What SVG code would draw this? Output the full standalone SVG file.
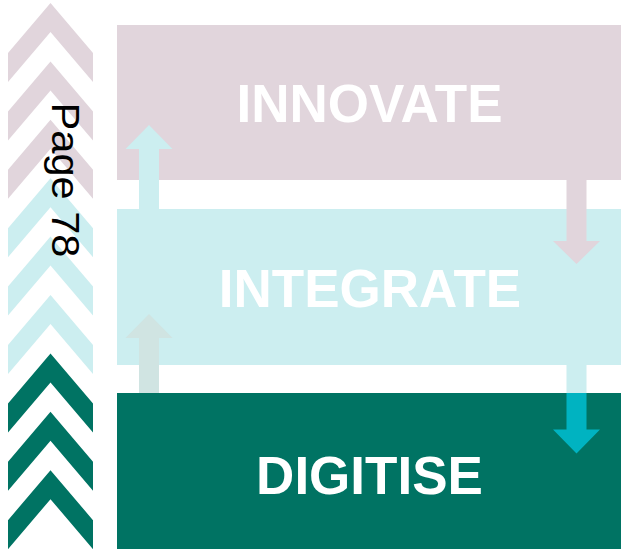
<svg xmlns="http://www.w3.org/2000/svg" xmlns:xlink="http://www.w3.org/1999/xlink" width="621" height="549" viewBox="0 0 621 549">
  <style>
    .label { font-family: "Liberation Sans", Arial, sans-serif; font-weight: bold; font-size: 53px; fill: #FFFFFF; text-anchor: middle; }
    .page { font-family: "Liberation Sans", Arial, sans-serif; font-size: 38px; fill: #000000; text-anchor: middle; }
    .pink { fill: #E1D5DC; }
    .cyan { fill: #CCEEF0; }
    .teal { fill: #007363; }
  </style>
  <defs>
    <!-- one chevron, apex at the origin -->
    <path id="chev" d="M0,0 L42.5,50 L42.5,79 L0,29 L-42.5,79 L-42.5,50 Z"/>
  </defs>

  <!-- chevron column on the left -->
  <g id="chevrons">
    <use xlink:href="#chev" class="pink" transform="translate(50.5,3)"/>
    <use xlink:href="#chev" class="pink" transform="translate(50.5,61.4)"/>
    <use xlink:href="#chev" class="pink" transform="translate(50.5,119.8)"/>
    <use xlink:href="#chev" class="cyan" transform="translate(50.5,178.2)"/>
    <use xlink:href="#chev" class="cyan" transform="translate(50.5,236.6)"/>
    <use xlink:href="#chev" class="cyan" transform="translate(50.5,295)"/>
    <use xlink:href="#chev" class="teal" transform="translate(50.5,353.4)"/>
    <use xlink:href="#chev" class="teal" transform="translate(50.5,411.8)"/>
    <use xlink:href="#chev" class="teal" transform="translate(50.5,470.2)"/>
    <text class="page" transform="translate(52,180) rotate(90)" textLength="155" lengthAdjust="spacingAndGlyphs">Page 78</text>
  </g>

  <!-- layers -->
  <g id="innovate">
    <rect class="pink" x="117" y="25" width="504" height="155"/>
    <text class="label" x="369.5" y="122">INNOVATE</text>
  </g>
  <g id="integrate">
    <rect class="cyan" x="117" y="209" width="504" height="156"/>
    <text class="label" x="370" y="307">INTEGRATE</text>
  </g>
  <g id="digitise">
    <rect class="teal" x="117" y="393" width="504" height="156"/>
    <text class="label" x="369.5" y="494">DIGITISE</text>
  </g>

  <!-- arrows between layers -->
  <g id="connectors">
    <!-- integrate up into innovate -->
    <path fill="#CCEEF0" d="M139,209 L139,149 L125.5,149 L149,125 L172.5,149 L159,149 L159,209 Z"/>
    <!-- digitise up into integrate -->
    <path fill="#D0E4E2" d="M139,393 L139,338 L125.5,338 L149,314 L172.5,338 L159,338 L159,393 Z"/>
    <!-- innovate down into integrate -->
    <path fill="#E1D5DC" d="M566.5,180 L566.5,241 L553,241 L576.5,264 L600,241 L586.5,241 L586.5,180 Z"/>
    <!-- integrate down into digitise -->
    <rect fill="#CCEEF0" x="566.5" y="364" width="20" height="29"/>
    <path fill="#00B3C1" d="M566.5,393 L566.5,429.5 L553,429.5 L576.5,453.5 L600,429.5 L586.5,429.5 L586.5,393 Z"/>
  </g>
</svg>
